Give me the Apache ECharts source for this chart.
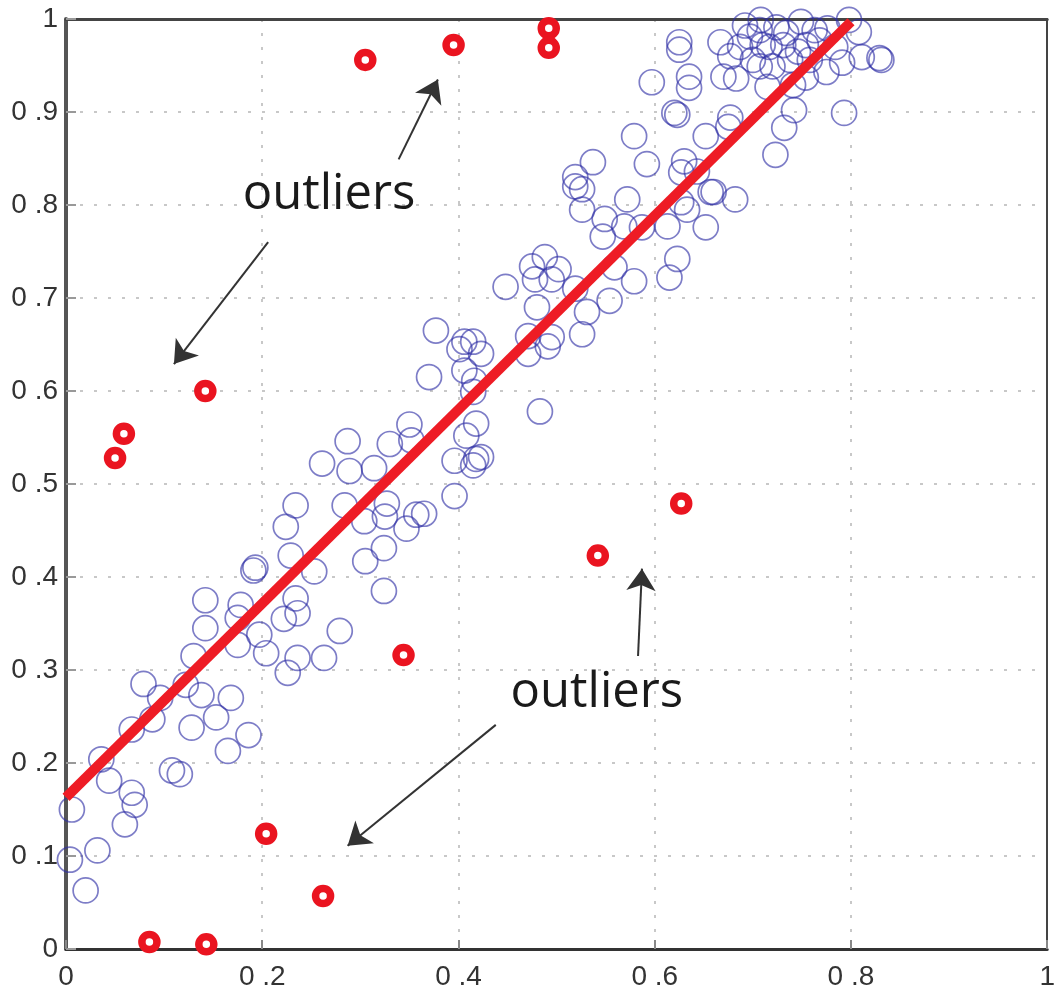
<!DOCTYPE html>
<html>
<head>
<meta charset="utf-8">
<script src="https://cdn.jsdelivr.net/npm/echarts@6/dist/echarts.min.js"></script>
<style>html,body{margin:0;padding:0;background:#fff}#c{width:1058px;height:991px}</style>
</head>
<body>
<div id="c"></div>
<script>
// ---- data ----
const xTicks = [0, 0.2, 0.4, 0.6, 0.8, 1];
const yTicks = [0, 0.1, 0.2, 0.3, 0.4, 0.5, 0.6, 0.7, 0.8, 0.9, 1];
const inliers = [
[0.006,0.150],[0.004,0.096],[0.032,0.106],[0.020,0.063],[0.044,0.181],[0.067,0.168],[0.070,0.155],[0.060,0.134],
[0.036,0.204],[0.108,0.192],[0.116,0.188],[0.165,0.213],[0.186,0.230],[0.153,0.249],[0.128,0.238],[0.168,0.270],
[0.138,0.273],[0.122,0.284],[0.088,0.247],[0.067,0.236],[0.096,0.270],[0.079,0.285],[0.130,0.315],[0.142,0.345],
[0.175,0.356],[0.175,0.327],[0.197,0.338],[0.204,0.318],[0.222,0.355],[0.236,0.361],[0.234,0.377],[0.178,0.370],
[0.142,0.375],[0.279,0.342],[0.324,0.385],[0.236,0.313],[0.263,0.313],[0.226,0.297],[0.191,0.407],[0.193,0.410],
[0.229,0.423],[0.253,0.406],[0.224,0.454],[0.234,0.477],[0.284,0.477],[0.304,0.460],[0.325,0.465],[0.327,0.479],
[0.324,0.431],[0.305,0.417],[0.347,0.452],[0.357,0.467],[0.365,0.468],[0.261,0.522],[0.289,0.514],[0.314,0.517],
[0.287,0.546],[0.330,0.543],[0.352,0.547],[0.350,0.564],[0.396,0.525],[0.418,0.527],[0.415,0.520],[0.423,0.529],
[0.408,0.552],[0.418,0.565],[0.396,0.487],[0.370,0.615],[0.406,0.622],[0.416,0.611],[0.415,0.599],[0.377,0.665],
[0.406,0.653],[0.415,0.653],[0.401,0.645],[0.423,0.640],[0.483,0.578],[0.471,0.659],[0.495,0.658],[0.491,0.648],
[0.471,0.640],[0.526,0.661],[0.480,0.690],[0.531,0.685],[0.554,0.697],[0.448,0.712],[0.475,0.734],[0.488,0.744],
[0.502,0.731],[0.495,0.720],[0.478,0.720],[0.519,0.710],[0.559,0.733],[0.579,0.718],[0.615,0.722],[0.623,0.742],
[0.526,0.817],[0.526,0.795],[0.572,0.806],[0.549,0.785],[0.547,0.766],[0.569,0.777],[0.587,0.776],[0.613,0.777],
[0.633,0.795],[0.627,0.803],[0.652,0.776],[0.657,0.814],[0.519,0.820],[0.537,0.846],[0.519,0.830],[0.579,0.874],
[0.592,0.844],[0.630,0.847],[0.627,0.835],[0.643,0.836],[0.660,0.814],[0.682,0.806],[0.620,0.899],[0.623,0.897],
[0.652,0.874],[0.677,0.894],[0.675,0.884],[0.597,0.932],[0.635,0.938],[0.635,0.926],[0.670,0.938],[0.683,0.936],
[0.677,0.960],[0.625,0.975],[0.625,0.967],[0.667,0.975],[0.708,0.999],[0.707,0.988],[0.749,0.997],[0.798,0.999],
[0.808,0.986],[0.811,0.959],[0.831,0.956],[0.829,0.958],[0.775,0.943],[0.715,0.927],[0.742,0.902],[0.732,0.883],
[0.723,0.854],[0.793,0.899],[0.700,0.956],[0.717,0.970],[0.734,0.985],[0.754,0.972],[0.720,0.949],[0.738,0.956],
[0.758,0.956],[0.768,0.977],[0.784,0.970],[0.791,0.953],[0.697,0.981],[0.687,0.970],[0.707,0.949],[0.776,0.990],
[0.746,0.965],[0.731,0.972],[0.763,0.988],[0.692,0.993],[0.724,0.991],[0.754,0.937],[0.710,0.972],[0.741,0.929]
];
const outliers = [
[0.305,0.956],[0.395,0.972],[0.492,0.990],[0.492,0.969],[0.142,0.600],[0.059,0.554],[0.050,0.528],
[0.627,0.479],[0.542,0.423],[0.344,0.316],[0.204,0.124],[0.262,0.057],[0.085,0.0075],[0.143,0.005]
];
const fitLine = [[0, 0.163], [0.8, 0.997]];
const labels = [
  { text: 'outliers', pos: [0.268, 0.811] },
  { text: 'outliers', pos: [0.541, 0.275] }
];
const arrows = [
  [[0.339, 0.849], [0.379, 0.935]],
  [[0.206, 0.760], [0.110, 0.629]],
  [[0.583, 0.315], [0.587, 0.409]],
  [[0.438, 0.241], [0.287, 0.111]]
];

function tickFmt(v) {
  if (v === 0) return '0';
  if (Math.abs(v - 1) < 1e-9) return '1';
  return '0 .' + Math.round(v * 10);
}

const chart = echarts.init(document.getElementById('c'), null, { renderer: 'canvas' });
const labelFont = { fontFamily: 'Liberation Sans', fontSize: 28, color: '#333' };
const split = { show: true, lineStyle: { color: '#c8c8c8', width: 2, type: [3, 11] } };

chart.setOption({
  animation: false,
  backgroundColor: '#fff',
  grid: { left: 66, right: 2, top: 19, bottom: 39 },
  xAxis: [{
    type: 'value', min: 0, max: 1, interval: 0.2,
    axisLine: { show: true, lineStyle: { color: '#333', width: 3 } },
    axisTick: { show: true, inside: true, length: 9, lineStyle: { color: '#888', width: 2 } },
    axisLabel: Object.assign({ formatter: tickFmt, margin: 14, showMaxLabel: true }, labelFont),
    splitLine: split
  }, {
    type: 'value', min: 0, max: 1, interval: 0.2, position: 'top',
    axisLine: { show: true, onZero: false, lineStyle: { color: '#444', width: 3 } },
    axisTick: { show: false }, axisLabel: { show: false }, splitLine: { show: false }
  }],
  yAxis: [{
    type: 'value', min: 0, max: 1, interval: 0.1,
    axisLine: { show: true, lineStyle: { color: '#555', width: 4 } },
    axisTick: { show: true, inside: true, length: 10, lineStyle: { color: '#999', width: 2 } },
    axisLabel: Object.assign({ formatter: tickFmt, margin: 8, showMaxLabel: true }, labelFont),
    splitLine: split
  }, {
    type: 'value', min: 0, max: 1, interval: 0.1, position: 'right',
    axisLine: { show: true, onZero: false, lineStyle: { color: '#444', width: 2 } },
    axisTick: { show: false }, axisLabel: { show: false }, splitLine: { show: false }
  }],
  series: [
    {
      type: 'scatter', data: inliers, symbol: 'circle', symbolSize: 25, z: 2,
      itemStyle: { color: 'rgba(0,0,0,0)', borderColor: 'rgba(45,45,165,0.62)', borderWidth: 1.7, opacity: 1 }
    },
    {
      type: 'line', data: fitLine, symbol: 'none', z: 3,
      lineStyle: { color: '#ee1c25', width: 10, cap: 'butt' }
    },
    {
      type: 'scatter', data: outliers, symbol: 'circle', symbolSize: 15, z: 4,
      itemStyle: { color: '#fff', borderColor: '#ea1420', borderWidth: 7.5, opacity: 1 }
    },
    {
      type: 'lines', coordinateSystem: 'cartesian2d', z: 5,
      symbol: ['none', 'arrow'], symbolSize: [0, 22],
      lineStyle: { color: '#333', width: 2, opacity: 1 },
      data: arrows.map(a => ({ coords: a }))
    },
    {
      type: 'scatter', symbolSize: 0, z: 6, itemStyle: { opacity: 1 },
      data: labels.map(l => ({ value: l.pos, label: { formatter: l.text } })),
      label: { show: true, position: 'inside', fontFamily: 'Open Sans', fontSize: 49, color: '#1a1a1a', opacity: 1 }
    }
  ]
});
</script>
</body>
</html>
